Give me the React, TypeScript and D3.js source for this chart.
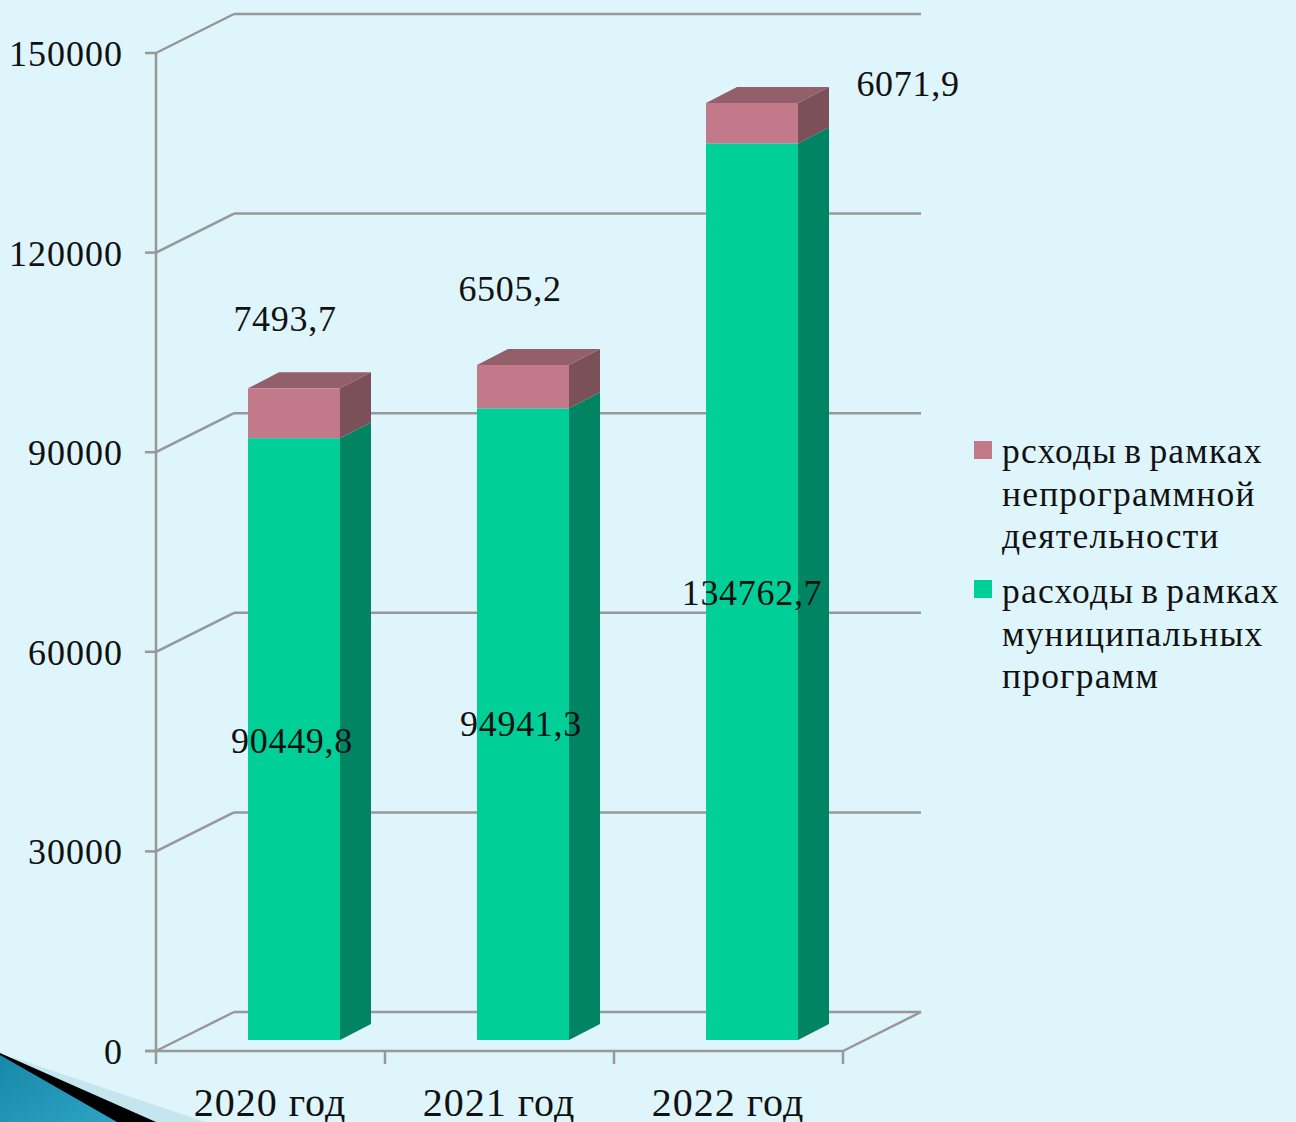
import React from "react";
import * as d3 from "d3";

const categories = ["2020 год", "2021 год", "2022 год"];
const programSeries = [90449.8, 94941.3, 134762.7];
const nonProgramSeries = [7493.7, 6505.2, 6071.9];
const programLabels = ["90449,8", "94941,3", "134762,7"];
const nonProgramLabels = ["7493,7", "6505,2", "6071,9"];
const yTicks = [0, 30000, 60000, 90000, 120000, 150000];
const legendNonProgram = ["рсходы в рамках", "непрограммной", "деятельности"];
const legendProgram = ["расходы в рамках", "муниципальных", "программ"];

const W = 1296, H = 1122;
const font = "'Liberation Serif', serif";
const axisColor = "#989898";
const y = d3.scaleLinear().domain([0, 150000]).range([1051, 53]);
const x = d3.scaleBand().domain(categories).range([156, 843]);
const wallDx = 78, wallDy = -39;
const barOffsetX = 92, barW = 92, barDepthX = 31, barDepthY = -16, floorDy = -11;
const legendDy = [0, 43, 85];

const labelPos: Record<string, { prog: [number, number]; non: [number, number] }> = {
  "2020 год": { prog: [292, 753], non: [285, 331] },
  "2021 год": { prog: [521, 736], non: [510, 301] },
  "2022 год": { prog: [752, 605], non: [908, 96] },
};

function Segment({ x0, v0, v1, front, side, top }: any) {
  const yb = y(v0) + floorDy, yt = y(v1) + floorDy, xr = x0 + barW;
  const p = (a: number[][]) => a.map((q) => q.join(",")).join(" ");
  return (
    <g>
      <rect x={x0} y={yt} width={barW} height={yb - yt} fill={front} />
      <polygon points={p([[xr, yb], [xr + barDepthX, yb + barDepthY], [xr + barDepthX, yt + barDepthY], [xr, yt]])} fill={side} />
      {top && <polygon points={p([[x0, yt], [x0 + barDepthX, yt + barDepthY], [xr + barDepthX, yt + barDepthY], [xr, yt]])} fill={top} />}
    </g>
  );
}

export default function App() {
  return (
    <svg width={W} height={H} viewBox={`0 0 ${W} ${H}`} style={{ position: "absolute", left: 0, top: 0, display: "block" }} fontFamily={font}>
      <defs>
        <linearGradient id="deco" x1="0" y1="0" x2="1" y2="1">
          <stop offset="0" stopColor="#1688a8" />
          <stop offset="1" stopColor="#2fa3c4" />
        </linearGradient>
      </defs>
      <rect width={W} height={H} fill="#def5fb" />

      {yTicks.map((t) => (
        <g key={t} stroke={axisColor} strokeWidth={2.5} fill="none">
          <line x1={145} x2={156} y1={y(t)} y2={y(t)} />
          <line x1={156} x2={156 + wallDx} y1={y(t)} y2={y(t) + wallDy} />
          <line x1={156 + wallDx} x2={921} y1={y(t) + wallDy} y2={y(t) + wallDy} />
        </g>
      ))}
      <g stroke={axisColor} strokeWidth={2.5} fill="none">
        <line x1={156} x2={156} y1={y(150000)} y2={1064} />
        <line x1={145} x2={843} y1={y(0)} y2={y(0)} />
        <line x1={843} x2={921} y1={y(0)} y2={y(0) + wallDy} />
        {categories.map((c) => x(c)! + x.bandwidth()).map((v) => (
          <line key={v} x1={v} x2={v} y1={y(0)} y2={1064} />
        ))}
      </g>

      {yTicks.map((t) => (
        <text key={t} x={123} y={y(t) + 13} textAnchor="end" fontSize={36} fill="#111" letterSpacing={1}>{t}</text>
      ))}

      {categories.map((c, i) => {
        const x0 = x(c)! + barOffsetX;
        const a = programSeries[i], b = a + nonProgramSeries[i];
        return (
          <g key={c}>
            <Segment x0={x0} v0={0} v1={a} front="#00cf98" side="#008462" />
            <Segment x0={x0} v0={a} v1={b} front="#c27a8a" side="#7c5058" top="#925f6a" />
          </g>
        );
      })}

      {categories.map((c, i) => (
        <g key={c} fontSize={36} fill="#111" textAnchor="middle" letterSpacing={0.7}>
          <text x={labelPos[c].prog[0]} y={labelPos[c].prog[1]}>{programLabels[i]}</text>
          <text x={labelPos[c].non[0]} y={labelPos[c].non[1]}>{nonProgramLabels[i]}</text>
          <text x={x(c)! + 114} y={1116} fontSize={40} letterSpacing={1}>{c}</text>
        </g>
      ))}

      <rect x={974} y={441} width={18} height={18} fill="#c27a8a" />
      <rect x={974} y={580} width={18} height={18} fill="#00cf98" />
      <g fontSize={35.5} fill="#111" letterSpacing={1.2} wordSpacing={-3}>
        {legendNonProgram.map((s, i) => <text key={s} x={1002} y={463 + legendDy[i]}>{s}</text>)}
        {legendProgram.map((s, i) => <text key={s} x={1002} y={603 + legendDy[i]}>{s}</text>)}
      </g>

      <polygon points="12,1057 205,1122 0,1122" fill="#c6e6ef" />
      <polygon points="0,1053 156,1122 0,1122" fill="#000" />
      <polygon points="0,1055 117,1122 0,1122" fill="url(#deco)" />
    </svg>
  );
}
